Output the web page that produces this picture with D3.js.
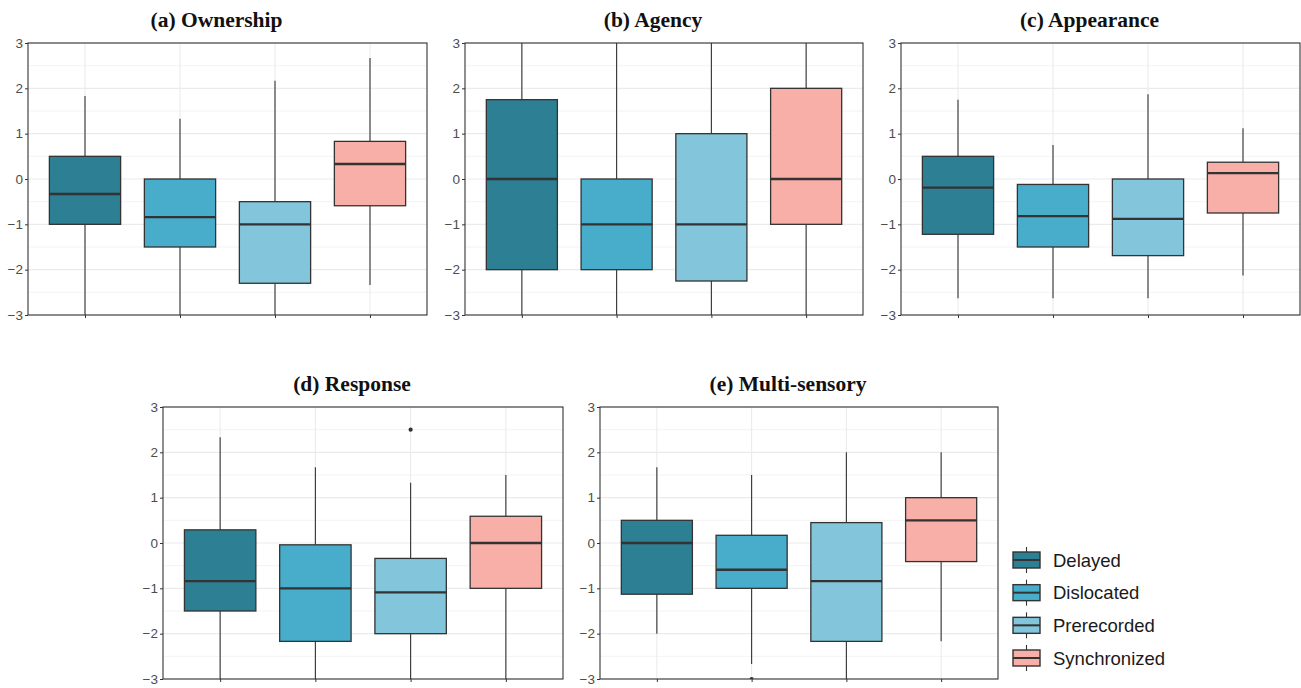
<!DOCTYPE html>
<html>
<head>
<meta charset="utf-8">
<script src="https://cdn.jsdelivr.net/npm/d3@7"></script>
<style>
body{margin:0;background:#fff;}
svg{display:block;}
</style>
</head>
<body>
<svg width="1301" height="688"></svg>
<script>
let categories=['Delayed','Dislocated','Prerecorded','Synchronized'];
let colors=['#2d7f94','#47adca','#83c5da','#f7afa8'];
let yTicks=[-3,-2,-1,0,1,2,3];

// each row: [lower whisker, q1, median, q3, upper whisker]
let ownership=[[-3,-1,-0.33,0.5,1.83],[-3,-1.5,-0.84,0,1.33],[-3,-2.3,-1,-0.5,2.17],[-2.34,-0.59,0.33,0.83,2.67]];
let agency=[[-3,-2,0,1.75,3],[-3,-2,-1,0,3],[-3,-2.25,-1,1,3],[-3,-1,0,2,3]];
let appearance=[[-2.63,-1.22,-0.19,0.5,1.75],[-2.63,-1.5,-0.82,-0.12,0.75],[-2.63,-1.69,-0.88,0,1.87],[-2.13,-0.75,0.13,0.37,1.12]];
let response=[[-3,-1.5,-0.84,0.29,2.33],[-3,-2.17,-1,-0.04,1.67],[-3,-2,-1.09,-0.34,1.33],[-3,-1,0,0.59,1.5]];
let multisensory=[[-2,-1.13,0,0.5,1.67],[-2.67,-1,-0.59,0.17,1.5],[-3,-2.17,-0.84,0.45,2],[-2.17,-0.41,0.5,1,2]];
let responseOutliers=[['Prerecorded',2.5]];
let multisensoryOutliers=[['Dislocated',-3]];

let panels=[
  {title:'(a) Ownership',stats:ownership,outliers:[],x0:28,x1:427,y0:43,y1:315},
  {title:'(b) Agency',stats:agency,outliers:[],x0:465,x1:863,y0:43,y1:315},
  {title:'(c) Appearance',stats:appearance,outliers:[],x0:901,x1:1300,y0:43,y1:315},
  {title:'(d) Response',stats:response,outliers:responseOutliers,x0:163,x1:563,y0:407,y1:679},
  {title:'(e) Multi-sensory',stats:multisensory,outliers:multisensoryOutliers,x0:600,x1:998,y0:407,y1:679}
];

let svg=d3.select('svg');
let gridColor='#ebebeb';
let dark='#333333';

let drawPanel=(p,i)=>{
  let xScale=d3.scalePoint().domain(categories).range([p.x0,p.x1]).padding(0.6);
  let yScale=d3.scaleLinear().domain([-3,3]).range([p.y1,p.y0]);
  let g=svg.append('g');
  let clipId='clip'+i;
  svg.append('clipPath').attr('id',clipId)
     .append('rect').attr('x',p.x0).attr('y',p.y0).attr('width',p.x1-p.x0).attr('height',p.y1-p.y0);

  // minor grid
  let minor=d3.range(-2.5,3,1);
  g.selectAll('.minor').data(minor).enter().append('line')
   .attr('x1',p.x0).attr('x2',p.x1)
   .attr('y1',d=>yScale(d)).attr('y2',d=>yScale(d))
   .attr('stroke',gridColor).attr('stroke-width',0.6);
  g.selectAll('.major').data(yTicks).enter().append('line')
   .attr('x1',p.x0).attr('x2',p.x1)
   .attr('y1',d=>yScale(d)).attr('y2',d=>yScale(d))
   .attr('stroke',gridColor).attr('stroke-width',1.1);
  g.selectAll('.vmajor').data(categories).enter().append('line')
   .attr('x1',d=>xScale(d)).attr('x2',d=>xScale(d))
   .attr('y1',p.y0).attr('y2',p.y1)
   .attr('stroke',gridColor).attr('stroke-width',1.1);

  let bw=xScale.step()*0.75;
  let boxes=g.append('g').attr('clip-path','url(#'+clipId+')');
  p.stats.forEach((s,k)=>{
    let cx=xScale(categories[k]);
    boxes.append('line').attr('x1',cx).attr('x2',cx)
      .attr('y1',yScale(s[4])).attr('y2',yScale(s[3]))
      .attr('stroke',dark).attr('stroke-width',1.1);
    boxes.append('line').attr('x1',cx).attr('x2',cx)
      .attr('y1',yScale(s[1])).attr('y2',yScale(s[0]))
      .attr('stroke',dark).attr('stroke-width',1.1);
    boxes.append('rect')
      .attr('x',cx-bw/2).attr('width',bw)
      .attr('y',yScale(s[3])).attr('height',yScale(s[1])-yScale(s[3]))
      .attr('fill',colors[k]).attr('stroke',dark).attr('stroke-width',1.3);
    boxes.append('line').attr('x1',cx-bw/2).attr('x2',cx+bw/2)
      .attr('y1',yScale(s[2])).attr('y2',yScale(s[2]))
      .attr('stroke',dark).attr('stroke-width',2.4);
  });
  boxes.selectAll('.outlier').data(p.outliers).enter().append('circle')
    .attr('cx',d=>xScale(d[0])).attr('cy',d=>yScale(d[1]))
    .attr('r',2.1).attr('fill',dark);

  // border
  g.append('rect').attr('x',p.x0).attr('y',p.y0)
   .attr('width',p.x1-p.x0).attr('height',p.y1-p.y0)
   .attr('fill','none').attr('stroke',dark).attr('stroke-width',1.1);

  let yAxis=d3.axisLeft(yScale).tickValues(yTicks).tickFormat(d3.format('d'))
    .tickSize(3).tickPadding(2).tickSizeOuter(0);
  let ya=g.append('g').attr('transform','translate('+p.x0+',0)').call(yAxis);
  ya.select('.domain').remove();
  ya.selectAll('line').attr('stroke',dark);
  ya.selectAll('text').attr('fill','#4d4d4d').style('font-family','Liberation Sans, Arial, sans-serif').style('font-size','13.5px');

  let xAxis=d3.axisBottom(xScale).tickSize(3).tickFormat('').tickSizeOuter(0);
  let xa=g.append('g').attr('transform','translate(0,'+p.y1+')').call(xAxis);
  xa.select('.domain').remove();
  xa.selectAll('line').attr('stroke',dark);

  g.append('text').attr('x',(p.x0-22+p.x1)/2).attr('y',p.y0-16)
   .attr('text-anchor','middle')
   .style('font-family','Liberation Serif, Times New Roman, serif')
   .style('font-weight','bold').style('font-size','21.5px')
   .attr('fill','#111')
   .text(p.title);
};

panels.forEach(drawPanel);

// legend
let legendY=d3.scalePoint().domain(categories).range([560,658]);
let lg=svg.append('g');
categories.forEach((c,k)=>{
  let cy=legendY(c);
  let kx=1013, kw=27;
  lg.append('line').attr('x1',kx+kw/2).attr('x2',kx+kw/2).attr('y1',cy-13).attr('y2',cy+13)
    .attr('stroke',dark).attr('stroke-width',1.1);
  lg.append('rect').attr('x',kx).attr('y',cy-8).attr('width',kw).attr('height',16)
    .attr('fill',colors[k]).attr('stroke',dark).attr('stroke-width',1.4);
  lg.append('line').attr('x1',kx).attr('x2',kx+kw).attr('y1',cy).attr('y2',cy)
    .attr('stroke',dark).attr('stroke-width',2);
  lg.append('text').attr('x',1053).attr('y',cy+6.5)
    .style('font-family','Liberation Sans, Arial, sans-serif').style('font-size','18.5px')
    .attr('fill','#1a1a1a').text(c);
});
</script>
</body>
</html>
